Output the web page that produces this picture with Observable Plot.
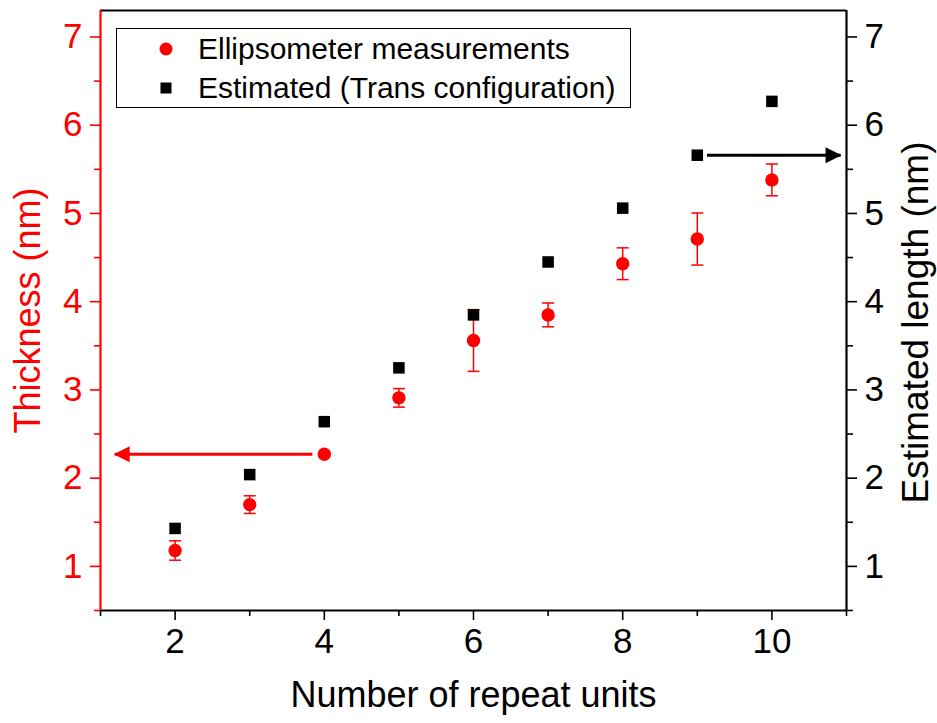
<!DOCTYPE html>
<html>
<head>
<meta charset="utf-8">
<script src="https://cdn.jsdelivr.net/npm/d3@7"></script>
<script src="https://cdn.jsdelivr.net/npm/@observablehq/plot@0.6"></script>
<style>
  html, body { margin: 0; padding: 0; background: #fff; }
  #wrap { position: relative; width: 937px; height: 723px; font-family: "Liberation Sans", Arial, sans-serif; }
  #legend { position: absolute; left: 116px; top: 28px; width: 513px; height: 78px; border: 1px solid #000; background: #fff; }
  .lg-row { position: absolute; left: 0; height: 38px; }
  .lg-mark { position: absolute; left: 40px; top: 10px; width: 18px; height: 18px; }
  .lg-text { position: absolute; left: 81px; top: 0; font-size: 30px; color: #000; white-space: nowrap; line-height: 38px; }
</style>
</head>
<body>
<div id="wrap">
  <div id="chart"></div>
  <div id="legend">
    <div class="lg-row" style="top:1px">
      <svg class="lg-mark" viewBox="-9 -9 18 18"><circle r="6.5" fill="#ff0000"/></svg>
      <span class="lg-text">Ellipsometer measurements</span>
    </div>
    <div class="lg-row" style="top:40px">
      <svg class="lg-mark" viewBox="-9 -9 18 18"><rect x="-5.5" y="-5.5" width="11" height="11" fill="#000"/></svg>
      <span class="lg-text">Estimated (Trans configuration)</span>
    </div>
  </div>
</div>
<script>
// ---- data ----
const units = [2, 3, 4, 5, 6, 7, 8, 9, 10];
const thickness = [1.18, 1.70, 2.27, 2.91, 3.56, 3.85, 4.43, 4.71, 5.38];
const thicknessErr = [0.11, 0.10, 0.02, 0.105, 0.35, 0.135, 0.18, 0.295, 0.18];
const estimated = [1.43, 2.04, 2.64, 3.25, 3.85, 4.45, 5.06, 5.66, 6.27];

const xDomain = [1, 11];
const yDomain = [0.5, 7.3];
const xMajorTicks = [2, 4, 6, 8, 10];
const xMinorTicks = [1, 3, 5, 7, 9, 11];
const yMajorTicks = [1, 2, 3, 4, 5, 6, 7];
const yMinorTicks = [0.5, 1.5, 2.5, 3.5, 4.5, 5.5, 6.5];

// arrows (data units): from -> to
const arrowFrom = [3.84, 9.13];
const arrowTo = [1.19, 10.92];
const arrowY = [2.27, 5.66];
const arrowColor = ["#ff0000", "#000000"];
const arrowDir = ["left", "right"];

const xLabel = "Number of repeat units";
const yLeftLabel = "Thickness (nm)";
const yRightLabel = "Estimated length (nm)";

// ---- tables ----
const meas = units.map((u, i) => ({u, t: thickness[i], lo: thickness[i] - thicknessErr[i], hi: thickness[i] + thicknessErr[i]}));
const est = units.map((u, i) => ({u, e: estimated[i]}));
const arrows = arrowFrom.map((x1, i) => ({x1, x2: arrowTo[i], y: arrowY[i], c: arrowColor[i], d: arrowDir[i]}));

const RED = "#ff0000";
const fmt = d => String(d);
const capSymbol = { draw(ctx) { ctx.moveTo(-6, 0); ctx.lineTo(6, 0); } };
const headLeft = { draw(ctx) { ctx.moveTo(-1, 0); ctx.lineTo(15, -8); ctx.lineTo(15, 8); ctx.closePath(); } };
const headRight = { draw(ctx) { ctx.moveTo(1, 0); ctx.lineTo(-15, -8); ctx.lineTo(-15, 8); ctx.closePath(); } };

const chart = Plot.plot({
  width: 937,
  height: 723,
  marginLeft: 100,
  marginRight: 91,
  marginTop: 10,
  marginBottom: 113,
  style: { fontFamily: '"Liberation Sans", Arial, sans-serif', background: "#fff", overflow: "visible" },
  x: { domain: xDomain },
  y: { domain: yDomain },
  marks: [
    // minor ticks
    Plot.axisX({anchor: "bottom", ticks: xMinorTicks, tickSize: 6, tickFormat: () => "", stroke: "#000", strokeWidth: 1.6, label: null}),
    Plot.axisY({anchor: "left", ticks: yMinorTicks, tickSize: 6, tickFormat: () => "", stroke: RED, strokeWidth: 1.6, label: null}),
    Plot.axisY({anchor: "right", ticks: yMinorTicks, tickSize: 6, tickFormat: () => "", stroke: "#000", strokeWidth: 1.6, label: null}),
    // major ticks
    Plot.axisX({anchor: "bottom", ticks: xMajorTicks, tickFormat: fmt, tickSize: 10, tickPadding: 8, fontSize: 35, stroke: "#000", strokeWidth: 1.6, color: "#000", label: null}),
    Plot.axisY({anchor: "left", ticks: yMajorTicks, tickFormat: fmt, tickSize: 10, tickPadding: 8, fontSize: 35, stroke: RED, strokeWidth: 1.6, color: RED, label: null}),
    Plot.axisY({anchor: "right", ticks: yMajorTicks, tickFormat: fmt, tickSize: 10, tickPadding: 8, fontSize: 35, stroke: "#000", strokeWidth: 1.6, color: "#000", label: null}),
    // frame lines
    Plot.ruleY([yDomain[1]], {stroke: "#000", strokeWidth: 2}),
    Plot.ruleY([yDomain[0]], {stroke: "#000", strokeWidth: 2.2}),
    Plot.ruleX([xDomain[1]], {stroke: "#000", strokeWidth: 2.2}),
    Plot.ruleX([xDomain[0]], {stroke: RED, strokeWidth: 2.2}),
    // error bars
    Plot.ruleX(meas, {x: "u", y1: "lo", y2: "hi", stroke: RED, strokeWidth: 1.5}),
    Plot.dot(meas, {x: "u", y: "lo", symbol: capSymbol, stroke: RED, strokeWidth: 1.5, fill: "none"}),
    Plot.dot(meas, {x: "u", y: "hi", symbol: capSymbol, stroke: RED, strokeWidth: 1.5, fill: "none"}),
    // points
    Plot.dot(meas, {x: "u", y: "t", r: 6.7, fill: RED, stroke: "none"}),
    Plot.dot(est, {x: "u", y: "e", symbol: "square", r: 6.5, fill: "#000", stroke: "none"}),
    // arrows
    Plot.link(arrows, {x1: "x1", x2: "x2", y1: "y", y2: "y", stroke: "c", strokeWidth: 3}),
    Plot.dot(arrows.filter(a => a.d === "left"), {x: "x2", y: "y", symbol: headLeft, fill: "c", stroke: "none"}),
    Plot.dot(arrows.filter(a => a.d === "right"), {x: "x2", y: "y", symbol: headRight, fill: "c", stroke: "none"}),
    // axis titles
    Plot.text([yLeftLabel], {frameAnchor: "left", textAnchor: "middle", dx: -72, rotate: -90, fill: RED, fontSize: 36, text: d => d}),
    Plot.text([yRightLabel], {frameAnchor: "right", textAnchor: "middle", dx: 70, dy: 12, rotate: -90, fill: "#000", fontSize: 37, text: d => d}),
    Plot.text([xLabel], {frameAnchor: "bottom", textAnchor: "middle", dy: 96, fill: "#000", fontSize: 36, text: d => d})
  ]
});
document.getElementById("chart").appendChild(chart);
</script>
</body>
</html>
